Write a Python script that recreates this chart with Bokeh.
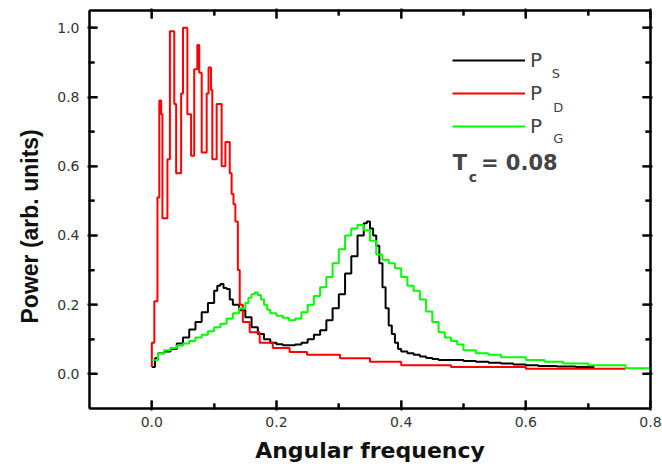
import math
from bokeh.plotting import figure
from bokeh.models import (LinearAxis, Range1d, Legend, LegendItem, Label, Title,
                          FixedTicker, PrintfTickFormatter, CustomJSTickFormatter)
from bokeh.embed import file_html
from bokeh.resources import INLINE

# Power spectra (step edges along angular frequency, value held until next edge)
red_freq = [0.000, 0.000, 0.004, 0.009, 0.012, 0.015, 0.017, 0.025, 0.029, 0.036,
            0.039, 0.047, 0.050, 0.057, 0.063, 0.068, 0.073, 0.076, 0.080, 0.088,
            0.091, 0.095, 0.097, 0.104, 0.112, 0.118, 0.125, 0.128, 0.131, 0.134,
            0.138, 0.141, 0.146, 0.157, 0.173, 0.194, 0.221, 0.249, 0.302, 0.350,
            0.400, 0.480, 0.600, 0.760]
red_power = [0.020, 0.090, 0.210, 0.510, 0.790, 0.750, 0.450, 0.620, 0.990, 0.780,
             0.580, 0.810, 1.000, 0.750, 0.630, 0.880, 0.950, 0.870, 0.640, 0.810,
             0.885, 0.820, 0.620, 0.780, 0.600, 0.670, 0.580, 0.520, 0.490, 0.440,
             0.300, 0.200, 0.150, 0.120, 0.090, 0.075, 0.063, 0.055, 0.045, 0.035,
             0.025, 0.020, 0.015, 0.015]

black_freq = [0.000, 0.005, 0.010, 0.020, 0.030, 0.040, 0.050, 0.060, 0.070, 0.080,
              0.090, 0.100, 0.105, 0.110, 0.115, 0.120, 0.125, 0.130, 0.140, 0.150,
              0.160, 0.170, 0.180, 0.190, 0.200, 0.210, 0.220, 0.230, 0.240, 0.250,
              0.260, 0.270, 0.280, 0.290, 0.300, 0.310, 0.320, 0.330, 0.340, 0.345,
              0.350, 0.355, 0.360, 0.365, 0.370, 0.375, 0.380, 0.385, 0.390, 0.395,
              0.400, 0.410, 0.420, 0.430, 0.440, 0.450, 0.460, 0.480, 0.500, 0.520,
              0.540, 0.560, 0.580, 0.600, 0.620, 0.650, 0.680, 0.710]
black_power = [0.020, 0.045, 0.060, 0.065, 0.072, 0.088, 0.105, 0.128, 0.150, 0.178,
               0.205, 0.240, 0.255, 0.260, 0.248, 0.245, 0.215, 0.200, 0.184, 0.164,
               0.135, 0.115, 0.100, 0.090, 0.086, 0.083, 0.083, 0.085, 0.090, 0.100,
               0.113, 0.126, 0.155, 0.190, 0.230, 0.290, 0.340, 0.400, 0.435, 0.440,
               0.420, 0.400, 0.370, 0.320, 0.250, 0.190, 0.140, 0.115, 0.090, 0.072,
               0.065, 0.060, 0.055, 0.050, 0.046, 0.043, 0.040, 0.040, 0.037, 0.035,
               0.032, 0.030, 0.027, 0.025, 0.023, 0.021, 0.020, 0.020]

green_freq = [0.000, 0.010, 0.020, 0.030, 0.040, 0.050, 0.060, 0.070, 0.080, 0.090,
              0.100, 0.110, 0.120, 0.130, 0.140, 0.150, 0.155, 0.160, 0.165, 0.170,
              0.175, 0.180, 0.185, 0.190, 0.200, 0.210, 0.220, 0.230, 0.240, 0.250,
              0.260, 0.270, 0.280, 0.290, 0.300, 0.310, 0.320, 0.330, 0.340, 0.350,
              0.360, 0.370, 0.380, 0.390, 0.400, 0.410, 0.420, 0.430, 0.440, 0.450,
              0.460, 0.470, 0.480, 0.490, 0.500, 0.520, 0.540, 0.560, 0.600, 0.630,
              0.660, 0.700, 0.760, 0.800]
green_power = [0.040, 0.060, 0.068, 0.075, 0.082, 0.088, 0.095, 0.105, 0.113, 0.123,
               0.135, 0.145, 0.160, 0.175, 0.190, 0.205, 0.220, 0.230, 0.235, 0.228,
               0.215, 0.200, 0.185, 0.175, 0.168, 0.162, 0.155, 0.160, 0.178, 0.200,
               0.225, 0.250, 0.280, 0.320, 0.360, 0.400, 0.420, 0.430, 0.415, 0.385,
               0.345, 0.330, 0.320, 0.305, 0.280, 0.255, 0.240, 0.215, 0.180, 0.150,
               0.120, 0.105, 0.095, 0.085, 0.068, 0.060, 0.055, 0.048, 0.040, 0.035,
               0.030, 0.025, 0.016, 0.016]

x_major = [0.0, 0.2, 0.4, 0.6, 0.8]
x_minor = [0.1, 0.3, 0.5, 0.7]
y_major = [0.0, 0.2, 0.4, 0.6, 0.8, 1.0]
y_minor = [0.1, 0.3, 0.5, 0.7, 0.9]

X0, X1 = -0.1, 0.8
Y0, Y1 = -0.1, 1.05
FRAME_W, FRAME_H = 561, 398          # plotting area in pixels
MAJOR_LEN, MINOR_LEN = 8, 5          # inward tick lengths in pixels

FONT = "DejaVu Sans"
YFONT = "Liberation Sans"

p = figure(width=662, height=467,
           x_range=Range1d(X0, X1), y_range=Range1d(Y0, Y1),
           output_backend="svg", toolbar_location=None,
           min_border_left=89, min_border_right=12,
           min_border_top=10, min_border_bottom=59)
p.grid.visible = False
p.outline_line_color = "black"
p.outline_line_width = 2

r_s = p.step(black_freq, black_power, mode="after", line_color="black", line_width=2)
r_d = p.step(red_freq, red_power, mode="after", line_color="#ff0000", line_width=2)
r_g = p.step(green_freq, green_power, mode="after", line_color="#00ff00", line_width=2)


def style_axis(ax, major, minor, show_labels):
    ax.ticker = FixedTicker(ticks=major, minor_ticks=minor)
    ax.axis_line_width = 2
    ax.axis_line_color = "black"
    ax.major_tick_in = MAJOR_LEN
    ax.major_tick_out = 2
    ax.minor_tick_in = MINOR_LEN
    ax.minor_tick_out = 1
    ax.major_tick_line_width = 2
    ax.minor_tick_line_width = 2
    ax.major_tick_line_color = "black"
    ax.minor_tick_line_color = "black"
    ax.major_label_text_font = FONT
    ax.major_label_text_font_size = "14px"
    ax.major_label_text_color = "#333333"
    if show_labels:
        ax.formatter = PrintfTickFormatter(format="%.1f")
    else:
        ax.formatter = CustomJSTickFormatter(code="return ''")
        ax.major_label_standoff = 0


xa = p.xaxis[0]
ya = p.yaxis[0]
style_axis(xa, x_major, x_minor, True)
style_axis(ya, y_major, y_minor, True)
xa.axis_label = "Angular frequency"
xa.axis_label_text_font = FONT
xa.axis_label_text_font_size = "22px"
xa.axis_label_text_font_style = "bold"
xa.axis_label_text_color = "#111111"
xa.major_label_standoff = 6
xa.axis_label_standoff = 8
ya.major_label_standoff = 8

top = LinearAxis()
right = LinearAxis()
style_axis(top, x_major, x_minor, False)
style_axis(right, y_major, y_minor, False)
p.add_layout(top, "above")
p.add_layout(right, "right")

# inward tick marks on all four edges of the frame, drawn as short dashes
ux = (X1 - X0) / FRAME_W
uy = (Y1 - Y0) / FRAME_H
tick_x, tick_y, tick_len, tick_ang = [], [], [], []
for ticks, n in ((x_major, MAJOR_LEN), (x_minor, MINOR_LEN)):
    for t in ticks:
        tick_x += [t, t]
        tick_y += [Y0 + n / 2 * uy, Y1 - n / 2 * uy]
        tick_len += [n, n]
        tick_ang += [math.pi / 2, math.pi / 2]
for ticks, n in ((y_major, MAJOR_LEN), (y_minor, MINOR_LEN)):
    for t in ticks:
        tick_x += [X0 + n / 2 * ux, X1 - n / 2 * ux]
        tick_y += [t, t]
        tick_len += [n, n]
        tick_ang += [0.0, 0.0]
p.scatter(tick_x, tick_y, size=tick_len, angle=tick_ang, marker="dash",
          line_color="black", line_width=2)

# vertical axis title
p.add_layout(Title(text="Power (arb. units)", align="left", offset=85,
                   standoff=24, text_font=YFONT, text_font_size="23px",
                   text_font_style="bold", text_color="#111111"), "left")

legend = Legend(items=[LegendItem(label="P", renderers=[r_s]),
                       LegendItem(label="P", renderers=[r_d]),
                       LegendItem(label="P", renderers=[r_g])],
                location=(363, 270), glyph_width=73, glyph_height=24,
                label_height=24, spacing=9, padding=0, margin=0,
                label_standoff=5, border_line_color=None,
                background_fill_alpha=0,
                label_text_font=FONT, label_text_font_size="20px")
p.add_layout(legend)

sub_style = dict(text_font=FONT, text_font_size="13px", text_baseline="middle")
for sx, sy, txt in [(0.6415, 0.8675, "S"), (0.644, 0.770, "D"), (0.644, 0.680, "G")]:
    p.add_layout(Label(x=sx, y=sy, text=txt, **sub_style))

p.add_layout(Label(x=0.4827, y=0.609, text="T", text_font=FONT,
                   text_font_size="21px", text_font_style="bold",
                   text_baseline="middle"))
p.add_layout(Label(x=0.5085, y=0.570, text="c", text_font=FONT,
                   text_font_size="14px", text_font_style="bold",
                   text_baseline="middle"))
p.add_layout(Label(x=0.528, y=0.609, text="= 0.08", text_font=FONT,
                   text_font_size="21px", text_font_style="bold",
                   text_baseline="middle"))

open("out.html", "w").write(file_html(p, INLINE))
